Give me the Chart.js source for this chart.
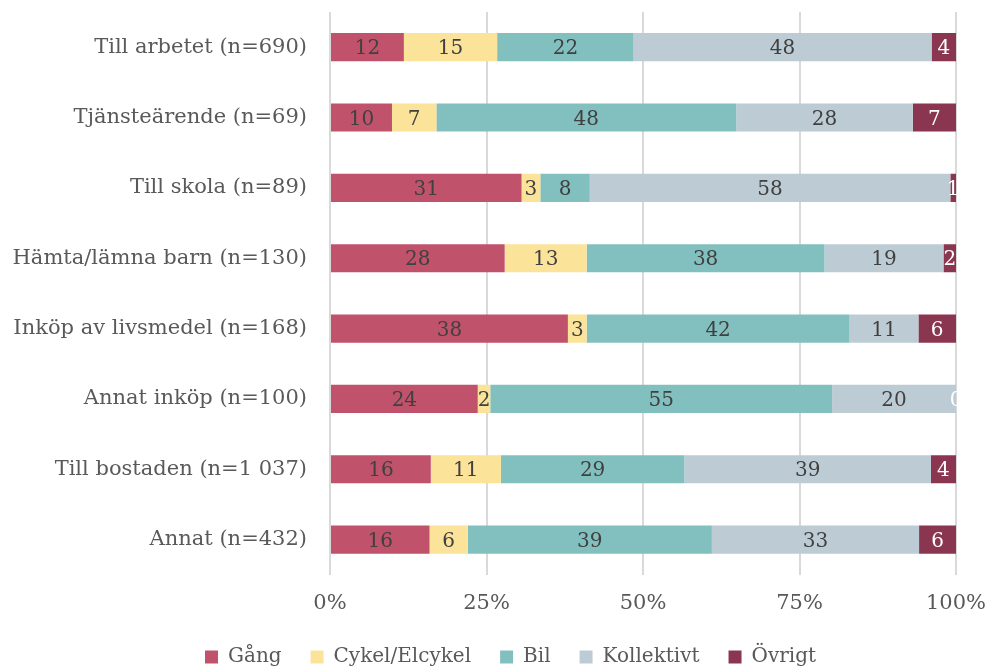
<!DOCTYPE html>
<html>
<head>
<meta charset="utf-8">
<script src="https://cdn.jsdelivr.net/npm/chart.js@4/dist/chart.umd.min.js"></script>
<style>
	html, body { margin: 0; padding: 0; background: #fff; }
	#wrap { width: 987px; height: 668px; }
</style>
</head>
<body>
<div id="wrap"><canvas id="chart"></canvas></div>
<script>
'use strict';

var CATEGORIES = [
	'Till arbetet (n=690)',
	'Tjänsteärende (n=69)',
	'Till skola (n=89)',
	'Hämta/lämna barn (n=130)',
	'Inköp av livsmedel (n=168)',
	'Annat inköp (n=100)',
	'Till bostaden (n=1 037)',
	'Annat (n=432)'
];

var SERIES = ['Gång', 'Cykel/Elcykel', 'Bil', 'Kollektivt', 'Övrigt'];

// shares in percent
var GANG = [11.8, 9.9, 30.6, 27.9, 38.0, 23.6, 16.1, 15.9];
var CYKEL = [14.9, 7.1, 3.0, 13.1, 3.0, 2.0, 11.2, 6.1];
var BIL = [21.8, 47.9, 7.9, 38.0, 42.0, 54.6, 29.3, 39.0];
var KOLLEKTIVT = [47.6, 28.2, 57.6, 19.0, 11.0, 19.8, 39.4, 33.1];
var OVRIGT = [3.9, 6.9, 0.9, 2.0, 6.0, 0, 4.0, 5.9];

var X_TICKS = [0, 25, 50, 75, 100];

var COLORS = ['#c0526b', '#fce39a', '#82c0bf', '#bdccd4', '#8b3650'];
var LABEL_COLORS = ['#404040', '#404040', '#404040', '#404040', '#ffffff'];

var FONT = '"DejaVu Serif", Georgia, serif';

// draws the rounded value in the middle of every segment
var segmentLabels = {
	id: 'segmentLabels',
	afterDatasetsDraw: function(chart) {
		var ctx = chart.ctx;
		ctx.save();
		ctx.font = '20px ' + FONT;
		ctx.textAlign = 'center';
		ctx.textBaseline = 'middle';
		chart.data.datasets.forEach(function(ds, i) {
			var meta = chart.getDatasetMeta(i);
			meta.data.forEach(function(bar, j) {
				var x = (bar.x + bar.base) / 2;
				ctx.fillStyle = LABEL_COLORS[i];
				ctx.fillText(String(Math.round(ds.data[j])), x, bar.y + 2);
			});
		});
		ctx.restore();
	}
};

// the legend in the original sits a bit right of the canvas centre
var legendShift = {
	id: 'legendShift',
	afterLayout: function(chart) {
		chart.legend.left += 17;
		chart.legend.right += 17;
	}
};

var lists = [GANG, CYKEL, BIL, KOLLEKTIVT, OVRIGT];

new Chart('chart', {
	type: 'bar',
	data: {
		labels: CATEGORIES,
		datasets: SERIES.map(function(name, i) {
			return {
				label: name,
				data: lists[i],
				backgroundColor: COLORS[i],
				borderWidth: 0,
				barPercentage: 0.8,
				categoryPercentage: 0.5
			};
		})
	},
	plugins: [segmentLabels, legendShift],
	options: {
		indexAxis: 'y',
		responsive: true,
		maintainAspectRatio: false,
		animation: false,
		layout: { padding: { left: 0, right: 0, top: 0, bottom: -9 } },
		plugins: {
			tooltip: { enabled: false },
			legend: {
				position: 'bottom',
				labels: {
					boxWidth: 13,
					boxHeight: 13,
					padding: 15,
					color: '#595959',
					font: { family: FONT, size: 20 },
					generateLabels: function(chart) {
						var items = Chart.defaults.plugins.legend.labels.generateLabels(chart);
						items.forEach(function(item, i) {
							if (i < items.length - 1) {
								item.text += '\u2002\u2009';
							}
						});
						return items;
					}
				}
			}
		},
		scales: {
			x: {
				stacked: true,
				min: 0,
				max: 100,
				afterBuildTicks: function(scale) {
					scale.ticks = X_TICKS.map(function(v) { return { value: v }; });
				},
				afterFit: function(scale) {
					scale.paddingLeft = 0;
					scale.paddingRight = 31;
				},
				grid: { color: '#d9d9d9', lineWidth: 2, drawTicks: false },
				border: { display: false },
				ticks: {
					padding: 16,
					color: '#595959',
					font: { family: FONT, size: 21 },
					callback: function(v) { return v + '%'; }
				}
			},
			y: {
				stacked: true,
				afterFit: function(scale) {
					scale.width = 330;
					scale.paddingTop = 12;
					scale.paddingBottom = 0;
				},
				grid: { display: false },
				border: { display: false },
				ticks: {
					padding: 15,
					color: '#595959',
					font: { family: FONT, size: 21 }
				}
			}
		}
	}
});
</script>
</body>
</html>
